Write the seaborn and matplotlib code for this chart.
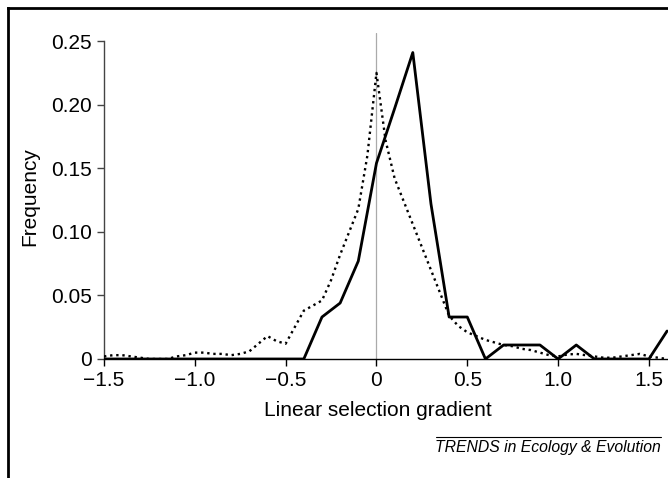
import numpy as np
import pandas as pd
import matplotlib
matplotlib.use("Agg")
import matplotlib.pyplot as plt
from matplotlib.lines import Line2D
import seaborn as sns

# solid series: bins of 0.1 from -1.5 to 1.6
solid_x = [-1.5, -1.4, -1.3, -1.2, -1.1, -1.0, -0.9, -0.8, -0.7, -0.6, -0.5,
           -0.4, -0.3, -0.2, -0.1, 0.0, 0.1, 0.2, 0.3, 0.4, 0.5, 0.6, 0.7,
           0.8, 0.9, 1.0, 1.1, 1.2, 1.3, 1.4, 1.5, 1.6]
solid_y = [0, 0, 0, 0, 0, 0, 0, 0, 0, 0, 0,
           0, 0.033, 0.044, 0.077, 0.154, 0.197, 0.241, 0.122, 0.033, 0.033, 0, 0.011,
           0.011, 0.011, 0, 0.011, 0, 0, 0, 0, 0.022]

# dotted series: finer bins of 0.05
dotted_x = [-1.5, -1.45, -1.4, -1.35, -1.3, -1.25, -1.2, -1.15, -1.1, -1.05,
            -1.0, -0.95, -0.9, -0.85, -0.8, -0.75, -0.7, -0.65, -0.6, -0.55,
            -0.5, -0.45, -0.4, -0.35, -0.3, -0.25, -0.2, -0.15, -0.1, -0.05,
            0.0, 0.05, 0.1, 0.15, 0.2, 0.25, 0.3, 0.35, 0.4, 0.45,
            0.5, 0.55, 0.6, 0.65, 0.7, 0.75, 0.8, 0.85, 0.9, 0.95,
            1.0, 1.05, 1.1, 1.15, 1.2, 1.25, 1.3, 1.35, 1.4, 1.45,
            1.5, 1.55, 1.6]
dotted_y = [0.002, 0.003, 0.003, 0.002, 0.001, 0.0, 0.0, 0.0, 0.002, 0.003,
            0.005, 0.005, 0.004, 0.004, 0.003, 0.004, 0.006, 0.012, 0.018, 0.014,
            0.012, 0.025, 0.038, 0.042, 0.046, 0.062, 0.082, 0.100, 0.118, 0.160,
            0.225, 0.172, 0.142, 0.124, 0.106, 0.088, 0.070, 0.052, 0.034, 0.026,
            0.021, 0.018, 0.015, 0.013, 0.011, 0.010, 0.008, 0.007, 0.005, 0.003,
            0.002, 0.0035, 0.004, 0.003, 0.002, 0.001, 0.001, 0.002, 0.003, 0.004,
            0.002, 0.001, 0.0]

x_ticks = [-1.5, -1.0, -0.5, 0, 0.5, 1.0, 1.5]
x_labels = ["\u22121.5", "\u22121.0", "\u22120.5", "0", "0.5", "1.0", "1.5"]
y_ticks = [0, 0.05, 0.10, 0.15, 0.20, 0.25]
y_labels = ["0", "0.05", "0.10", "0.15", "0.20", "0.25"]

solid = pd.DataFrame({"gradient": solid_x, "freq": solid_y})
dotted = pd.DataFrame({"gradient": dotted_x, "freq": dotted_y})

sns.set_theme(style="white")
plt.rcParams["font.family"] = ["Liberation Sans", "DejaVu Sans"]
plt.rcParams["text.color"] = "black"
plt.rcParams["axes.labelcolor"] = "black"

fig = plt.figure(figsize=(6.68, 4.78), dpi=100)
ax = fig.add_axes([0.1557, 0.249, 0.8443, 0.681])

ax.axvline(0, color="#aaaaaa", lw=0.9, zorder=1)
sns.lineplot(data=dotted, x="gradient", y="freq", ax=ax, color="black",
             lw=1.7, linestyle=(0, (1, 1.6)), dash_capstyle="butt", zorder=3)
sns.lineplot(data=solid, x="gradient", y="freq", ax=ax, color="black",
             lw=2.0, zorder=4)

ax.set_xlim(-1.5, 1.605)
ax.set_ylim(0, 0.256)
ax.set_xticks(x_ticks)
ax.set_xticklabels(x_labels)
ax.set_yticks(y_ticks)
ax.set_yticklabels(y_labels)

for s in ["top", "right"]:
    ax.spines[s].set_visible(False)
ax.spines["left"].set_bounds(0, 0.25)
ax.spines["left"].set_color("#444444")
ax.spines["left"].set_linewidth(1.0)
ax.spines["bottom"].set_color("black")
ax.spines["bottom"].set_linewidth(1.0)

ax.tick_params(axis="both", which="major", labelsize=15, direction="out",
               length=5, width=1.0, colors="black", pad=4,
               bottom=True, left=True)
ax.tick_params(axis="y", color="#444444")

ax.set_xlabel("Linear selection gradient", fontsize=15, color="black")
ax.set_ylabel("Frequency", fontsize=15, color="black")
ax.xaxis.set_label_coords(0.486, -0.129)
ax.yaxis.set_label_coords(-0.115, 0.5)

# caption and its rule
fig.text(0.9895, 1 - 452 / 478, "TRENDS in Ecology & Evolution", ha="right",
         va="baseline", fontsize=11.3, style="italic", color="black")
fig.add_artist(Line2D([436 / 668, 661 / 668], [1 - 437.3 / 478, 1 - 437.3 / 478],
                      color="black", lw=0.8))

# outer frame (top and left edges visible)
fig.add_artist(Line2D([8 / 668, 8 / 668], [0, 1 - 7.5 / 478], color="black",
                      lw=2.0, solid_capstyle="projecting"))
fig.add_artist(Line2D([8 / 668, 1], [1 - 7.5 / 478, 1 - 7.5 / 478],
                      color="black", lw=2.0, solid_capstyle="projecting"))

fig.savefig("out.png", dpi=100)
